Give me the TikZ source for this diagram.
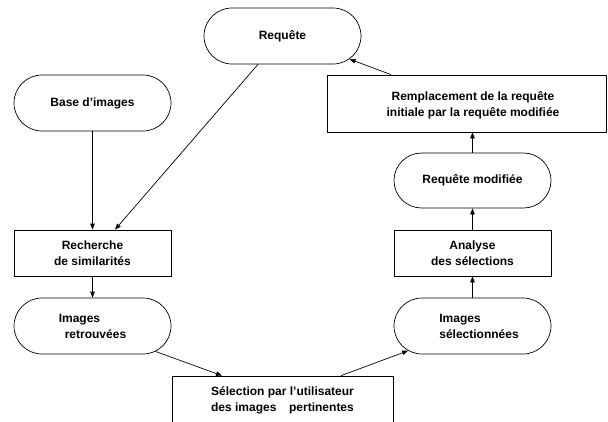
\documentclass[tikz,border=0pt]{standalone}
\usepackage{fontspec}
\usepackage{calc}
\setmainfont{Liberation Sans}
\usetikzlibrary{shapes.misc,arrows.meta}
\begin{document}
\begin{tikzpicture}[x=1pt,y=-1pt,line width=0.7pt,
    every node/.style={font=\bfseries\fontsize{12}{16}\selectfont},
    etat/.style={draw, rounded rectangle, minimum width=157pt, minimum height=56pt, inner sep=0pt, align=center},
    tache/.style={draw, rectangle, minimum width=157pt, minimum height=46pt, inner sep=0pt, align=center},
    fl/.style={-{Triangle[length=6pt,width=4.5pt]}}]
  \clip (0,0) rectangle (608,421);
  % boites
  \node[etat] (req) at (282.5,36) {Requête};
  \node[etat] (base) at (92.5,103) {Base d'images};
  \node[tache, minimum width=279pt, minimum height=57pt] (remp) at (466.5,103.5) {};
  \node[align=center, inner sep=0pt] (remptxt) at (473,105.5) {Remplacement de la requête\\initiale par la requête modifiée};
  \node[etat, minimum height=55pt] (reqmod) at (472.5,180.5) {Requête modifiée};
  \node[tache] (rech) at (92.5,253) {Recherche\\de similarités};
  \node[tache] (anal) at (472.5,253) {Analyse\\des sélections};
  \node[etat, align=left] (retr) at (92.5,326) {Images\\\hspace*{6pt}retrouvées};
  \node[etat] (sel) at (472.5,326) {};
  \node[align=left, inner sep=0pt, anchor=west] (seltxt) at (439,326.5) {Images\\sélectionnées};
  \node[tache, minimum width=221pt, minimum height=48pt] (choix) at (282.5,400)
    {Sélection par l'utilisateur\\\makebox[\widthof{Sélection par l'utilisateur}]{des images\hfill pertinentes}};
  % fleches
  \draw[fl] (base.south) -- (rech.north);
  \draw[fl] ([xshift=-24.5pt]req.south) -- ([xshift=22.5pt]rech.north);
  \draw[fl] (rech.south) -- (retr.north);
  \draw[fl] (retr.-22.6) -- ([xshift=-60.5pt]choix.north);
  \draw[fl] ([xshift=58.5pt]choix.north) -- (sel.201.6);
  \draw[fl] (sel.north) -- (anal.south);
  \draw[fl] (anal.north) -- (reqmod.south);
  \draw[fl] (reqmod.north) -- ([xshift=6pt]remp.south);
  \draw[fl] ([xshift=-75.5pt]remp.north) -- (req.-19.1);
\end{tikzpicture}
\end{document}
